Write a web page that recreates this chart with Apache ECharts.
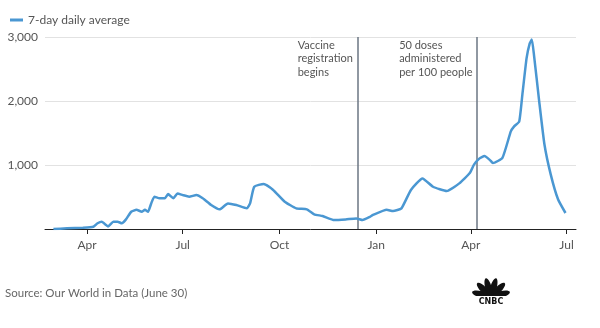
<!DOCTYPE html>
<html>
<head>
<meta charset="utf-8">
<script src="https://cdn.jsdelivr.net/npm/echarts@6/dist/echarts.min.js"></script>
<style>
html,body{margin:0;padding:0;background:#fff;}
#c{width:600px;height:328px;}
</style>
</head>
<body>
<div id="c"></div>
<script>
// ---- data ----
var dates = [
 '2020-02-29','2020-03-13','2020-03-28','2020-04-07','2020-04-11','2020-04-15','2020-04-19','2020-04-21',
 '2020-04-26','2020-04-30','2020-05-04','2020-05-08','2020-05-13','2020-05-18','2020-05-23','2020-05-26',
 '2020-05-29','2020-06-01','2020-06-04','2020-06-09','2020-06-14','2020-06-17','2020-06-22','2020-06-26',
 '2020-07-01','2020-07-07','2020-07-14','2020-07-20','2020-07-28','2020-08-05','2020-08-13','2020-08-21',
 '2020-08-31','2020-09-03','2020-09-07','2020-09-16','2020-09-25','2020-10-06','2020-10-17','2020-10-27',
 '2020-11-03','2020-11-11','2020-11-22','2020-12-03','2020-12-13','2020-12-19','2020-12-26','2020-12-29',
 '2021-01-11','2021-01-17','2021-01-25','2021-02-03','2021-02-14','2021-02-24','2021-03-09','2021-03-21',
 '2021-03-31','2021-04-04','2021-04-09','2021-04-14','2021-04-19','2021-04-22','2021-05-01','2021-05-09',
 '2021-05-12','2021-05-17','2021-05-20','2021-05-24','2021-05-27','2021-05-29','2021-05-31','2021-06-05','2021-06-10',
 '2021-06-16','2021-06-23','2021-06-30'
];
var dailyAvg = [
 0,10,20,35,90,115,62,40,
 115,115,90,150,270,300,270,300,
 270,400,505,480,480,545,480,555,
 530,505,530,480,375,307,400,375,
 323,400,660,705,610,427,323,307,
 230,203,140,150,165,140,190,220,
 300,280,323,610,790,660,594,713,
 875,1005,1100,1140,1080,1030,1110,1525,
 1600,1680,2100,2670,2900,2960,2725,1995,1320,
 850,460,250
];
var tickDates = ['2020-04-01','2020-07-01','2020-10-01','2021-01-01','2021-04-01','2021-07-01'];
var tickLabels = ['Apr','Jul','Oct','Jan','Apr','Jul'];
var eventDates = ['2020-12-14','2021-04-07'];
var eventLabels = ['Vaccine\nregistration\nbegins','50 doses\nadministered\nper 100 people'];
var yTicks = [0, 1000, 2000, 3000];
var seriesName = '7-day daily average';
var sourceText = 'Source: Our World in Data (June 30)';
var axisMin = '2020-02-21', axisMax = '2021-07-10';

function t(s){ var p = s.split('-'); return Date.UTC(+p[0], +p[1]-1, +p[2]); }

var FONT = 'Lato, "Open Sans", sans-serif';
var chart = echarts.init(document.getElementById('c'), null, {renderer:'canvas'});
var tickTimes = tickDates.map(t);

chart.setOption({
  animation:false,
  textStyle:{fontFamily:FONT},
  legend:{
    left:5, top:9, itemWidth:13, itemHeight:3, itemGap:6,
    icon:'rect',
    textStyle:{color:'#555', fontSize:12, fontFamily:FONT},
    data:[{name:seriesName, icon:'rect'}]
  },
  grid:{left:45, right:24, top:37, bottom:99, containLabel:false},
  xAxis:{
    type:'value', min:t(axisMin), max:t(axisMax),
    axisLine:{lineStyle:{color:'#222', width:1}},
    axisTick:{show:true, length:5, lineStyle:{color:'#222'}, customValues:tickTimes},
    axisLabel:{customValues:tickTimes, color:'#555', fontSize:12, margin:10, fontFamily:FONT,
      formatter:function(v){ var i = tickTimes.indexOf(v); return i>=0 ? tickLabels[i] : ''; }},
    splitLine:{show:false}
  },
  yAxis:{
    type:'value', min:yTicks[0], max:yTicks[yTicks.length-1], interval:1000,
    axisLine:{show:false}, axisTick:{show:false},
    axisLabel:{color:'#555', fontSize:12, margin:7, fontFamily:FONT,
      formatter:function(v){ return v===0 ? '' : v.toLocaleString('en-US'); }},
    splitLine:{lineStyle:{color:'#e2e2e2', width:1}}
  },
  series:[{
    name:seriesName, type:'line', showSymbol:false, symbol:'none',
    smooth:0.15,
    data:dates.map(function(d,i){ return [t(d), dailyAvg[i]]; }),
    lineStyle:{color:'#4a97d2', width:2.5},
    itemStyle:{color:'#4a97d2'},
    z:3,
    markLine:{
      silent:true, symbol:['none','none'],
      label:{show:false},
      lineStyle:{color:'#6b7683', width:1.5, type:'solid'},
      data:eventDates.map(function(d){ return {xAxis:t(d)}; }),
      z:2
    }
  }]
});

// annotations placed next to their event lines (positions from the axis scale)
var mc = document.createElement('canvas').getContext('2d');
mc.font = '11px ' + FONT;
var graphics = [];
var topY = chart.convertToPixel({gridIndex:0}, [t(axisMin), yTicks[yTicks.length-1]])[1];
eventDates.forEach(function(d, i){
  var px = chart.convertToPixel({gridIndex:0}, [t(d), 0])[0];
  var w = Math.max.apply(null, eventLabels[i].split('\n').map(function(s){ return mc.measureText(s).width; }));
  graphics.push({type:'text', left:px - 4.5 - w, top:topY + 1.5,
    style:{text:eventLabels[i], fill:'#555', font:'11px ' + FONT, lineHeight:13.5, align:'left'}});
});
graphics.push({type:'text', left:5, top:287, style:{text:sourceText, fill:'#666', font:'11.5px ' + FONT}});
// CNBC peacock mark
var fan = [];
for (var k=0;k<6;k++){
  var ang = (-75 + k*30) * Math.PI/180;
  fan.push({type:'ellipse', shape:{cx:0, cy:-10, rx:3.2, ry:9.5},
    rotation:-ang, originX:0, originY:0, style:{fill:'#111'}});
}
graphics.push({type:'group', x:491, y:297, children:fan});
graphics.push({type:'rect', shape:{x:476, y:296, width:30, height:4}, style:{fill:'#fff'}});
graphics.push({type:'text', x:491, y:298, style:{text:'CNBC', fill:'#111', font:'900 8px "DejaVu Sans", sans-serif', align:'center', verticalAlign:'top'}});
chart.setOption({graphic:graphics});
</script>
</body>
</html>
